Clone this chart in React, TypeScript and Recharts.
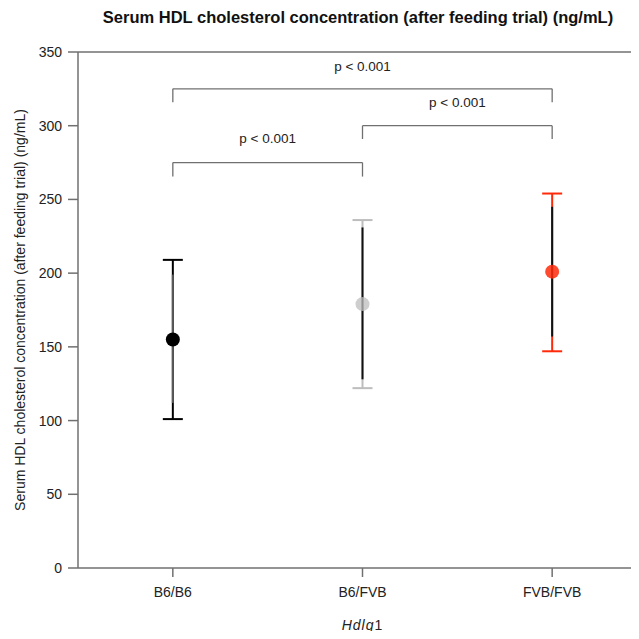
import {
  ComposedChart,
  Scatter,
  ErrorBar,
  XAxis,
  YAxis,
  ReferenceLine,
  ReferenceDot,
} from 'recharts';

// genotype groups and their summary values (ng/mL)
const groups = ['B6/B6', 'B6/FVB', 'FVB/FVB'];
const means = [155, 179, 201];
const outerLow = [101, 122, 147];
const outerHigh = [209, 236, 254];
const innerLow = [112, 128, 157];
const innerHigh = [199, 231, 245];
const colors = ['#000000', '#bdbdbd', '#ff2a0a'];
const dotOpacity = [1, 0.75, 0.85];
const innerColors = ['#5a5a5a', '#111111', '#111111'];

const yTicks = [0, 50, 100, 150, 200, 250, 300, 350];

// significance brackets: from group, to group, bar level, drop level, label level
const bracketFrom = [0, 1, 0];
const bracketTo = [2, 2, 1];
const bracketY = [325, 300, 275];
const bracketDrop = [316, 291, 265.5];
const bracketLabelY = [340.5, 316, 291];
const bracketLabel = ['p < 0.001', 'p < 0.001', 'p < 0.001'];

const FONT = '"Liberation Sans", Arial, Helvetica, sans-serif';
const AXIS = '#707070';
const TEXT = '#222222';
const TITLE = 'Serum HDL cholesterol concentration (after feeding trial) (ng/mL)';

const points = groups.map((g, i) => ({
  x: i,
  y: means[i],
  outer: [means[i] - outerLow[i], outerHigh[i] - means[i]],
}));

const labelPoints = bracketLabel.map((t, i) => ({
  x: (bracketFrom[i] + bracketTo[i]) / 2,
  y: bracketLabelY[i],
  text: t,
}));

export default function App() {
  return (
    <div style={{ margin: -8, width: 639, height: 639, overflow: 'hidden', position: 'relative', background: '#fff' }}>
      <div style={{
        position: 'absolute', top: 8, left: 0, width: 716, textAlign: 'center',
        fontFamily: FONT, fontWeight: 'bold', fontSize: 16.5, color: '#111', whiteSpace: 'nowrap',
      }}>
        {TITLE}
      </div>
      <ComposedChart width={660} height={639} margin={{ top: 52, right: 13, bottom: 11, left: 0 }}>
        <XAxis
          type="number"
          dataKey="x"
          domain={[-0.5, 2.5]}
          ticks={[0, 1, 2]}
          allowDataOverflow
          tickFormatter={v => groups[v as number] ?? ''}
          tickSize={9}
          tickMargin={10}
          height={60}
          stroke={AXIS}
          strokeWidth={1.5}
          tick={{ fill: TEXT, fontSize: 14, fontFamily: FONT }}
          label={{
            content: (p: any) => {
              const vb = p.viewBox;
              return (
                <text x={vb.x + vb.width / 2} y={625} textAnchor="middle" dominantBaseline="central"
                  fontFamily={FONT} fontSize={14} fill={TEXT} letterSpacing={1}>
                  <tspan fontStyle="italic">Hdlq</tspan>1
                </text>
              );
            },
          }}
        />
        <YAxis
          type="number"
          dataKey="y"
          domain={[0, 350]}
          ticks={yTicks}
          allowDataOverflow
          width={78}
          tickSize={10}
          tickMargin={6}
          stroke={AXIS}
          strokeWidth={1.5}
          tick={{ fill: TEXT, fontSize: 14, fontFamily: FONT }}
          label={{
            content: (p: any) => {
              const vb = p.viewBox;
              const cy = vb.y + vb.height / 2;
              return (
                <text x={20} y={cy} transform={`rotate(-90, 20, ${cy})`} textAnchor="middle"
                  dominantBaseline="central" fontFamily={FONT} fontSize={14} fill={TEXT}>
                  {TITLE}
                </text>
              );
            },
          }}
        />
        <ReferenceLine y={350} stroke={AXIS} strokeWidth={1.5} />
        {bracketFrom.map((f, i) => (
          <ReferenceLine key={`h${i}`} stroke={AXIS} strokeWidth={1.3}
            segment={[{ x: f, y: bracketY[i] }, { x: bracketTo[i], y: bracketY[i] }]} />
        ))}
        {bracketFrom.map((f, i) => (
          <ReferenceLine key={`l${i}`} stroke={AXIS} strokeWidth={1.3}
            segment={[{ x: f, y: bracketY[i] }, { x: f, y: bracketDrop[i] }]} />
        ))}
        {bracketTo.map((t, i) => (
          <ReferenceLine key={`r${i}`} stroke={AXIS} strokeWidth={1.3}
            segment={[{ x: t, y: bracketY[i] }, { x: t, y: bracketDrop[i] }]} />
        ))}
        <Scatter
          data={labelPoints}
          dataKey="y"
          isAnimationActive={false}
          shape={(p: any) => (
            <text x={p.cx} y={p.cy} textAnchor="middle" dominantBaseline="central"
              fontFamily={FONT} fontSize={13.5} fill={TEXT}>
              {p.payload.text}
            </text>
          )}
        />
        {points.map((pt, i) => (
          <Scatter
            key={groups[i]}
            data={[pt]}
            dataKey="y"
            isAnimationActive={false}
            shape={() => <g />}
          >
            <ErrorBar dataKey="outer" direction="y" width={10} stroke={colors[i]} strokeWidth={2} />
          </Scatter>
        ))}
        {groups.map((g, i) => (
          <ReferenceLine key={`inner-${g}`} stroke={innerColors[i]} strokeWidth={2}
            segment={[{ x: i, y: innerLow[i] }, { x: i, y: innerHigh[i] }]} />
        ))}
        {points.map((pt, i) => (
          <ReferenceDot key={`dot-${groups[i]}`} x={pt.x} y={pt.y} r={7}
            fill={colors[i]} fillOpacity={dotOpacity[i]} stroke="none" />
        ))}
      </ComposedChart>
    </div>
  );
}
